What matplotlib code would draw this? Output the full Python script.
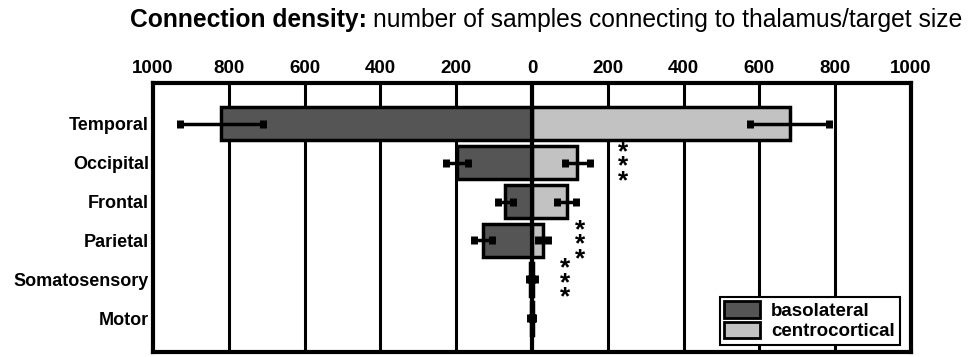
import numpy as np
import matplotlib
matplotlib.use('Agg')
import matplotlib.pyplot as plt
from matplotlib.patches import Patch

plt.rcParams['font.family'] = ['Liberation Sans', 'DejaVu Sans']

# 데이터
regions = ['Temporal', 'Occipital', 'Frontal', 'Parietal', 'Somatosensory', 'Motor']
baso_mean = [820, 198, 71, 129, 5, 3]
baso_err = [110, 29, 20, 24, 3, 2]
centro_mean = [680, 119, 92, 29, 4, 2]
centro_err = [105, 33, 25, 12, 3, 2]
xticks = [-1000, -800, -600, -400, -200, 0, 200, 400, 600, 800, 1000]
star_rows = [1, 3, 4]
star_x = [240, 127, 87]

dark = '#555555'
light = '#c2c2c2'

fig = plt.figure(figsize=(9.69, 3.57), dpi=100)
ax = fig.add_axes([0.158, 0.014, 0.782, 0.7535])

y = np.arange(len(regions))
for xv in xticks[1:-1]:
    ax.axvline(xv, color='black', lw=2.2, zorder=0)

ax.barh(y, -np.array(baso_mean), height=0.85, color=dark, edgecolor='black', lw=2.5, zorder=2)
ax.barh(y, centro_mean, height=0.85, color=light, edgecolor='black', lw=2.5, zorder=2)
ax.errorbar(-np.array(baso_mean), y, xerr=baso_err, fmt='none', ecolor='black',
            elinewidth=2.5, capsize=3, capthick=5, zorder=3)
ax.errorbar(centro_mean, y, xerr=centro_err, fmt='none', ecolor='black',
            elinewidth=2.5, capsize=3, capthick=5, zorder=3)
ax.axvline(0, color='black', lw=3, zorder=4)

for row, xv in zip(star_rows, star_x):
    ax.text(xv, row + 0.1, '*\n*\n*', ha='center', va='center', linespacing=0.5,
            fontsize=19, fontweight='bold', zorder=5)

ax.set_xlim(-1000, 1000)
ax.set_ylim(5.87, -1.05)
ax.set_xticks(xticks)
ax.set_xticklabels([str(abs(v)) for v in xticks], fontsize=13.5, fontweight='bold')
ax.xaxis.tick_top()
ax.set_yticks(y)
ax.set_yticklabels(regions, fontsize=13, fontweight='bold')
ax.tick_params(length=0, pad=4)
ax.tick_params(axis='y', pad=3)
for s in ax.spines.values():
    s.set_linewidth(3)

handles = [Patch(facecolor=dark, edgecolor='black', lw=2, label='basolateral'),
           Patch(facecolor=light, edgecolor='black', lw=2, label='centrocortical')]
leg = ax.legend(handles=handles, loc='lower right', fancybox=False, framealpha=1,
                edgecolor='black', prop={'weight': 'bold', 'size': 13.5},
                handlelength=1.9, handleheight=0.95, labelspacing=0.1,
                borderpad=0.25, handletextpad=0.6, borderaxespad=0.2,
                bbox_to_anchor=(0.99, 0.012))
leg.get_frame().set_linewidth(1.5)

# 제목: 굵은 부분 + 보통 부분
t1 = fig.text(130 / 969, 0.945, 'Connection density:', fontsize=17.7,
              fontweight='bold', ha='left', va='center')
fig.canvas.draw()
bb = t1.get_window_extent()
fig.text(bb.x1 / 969 + 0.006, 0.945, 'number of samples connecting to thalamus/target size',
         fontsize=17.7, ha='left', va='center')

fig.savefig('out.png', dpi=100)
